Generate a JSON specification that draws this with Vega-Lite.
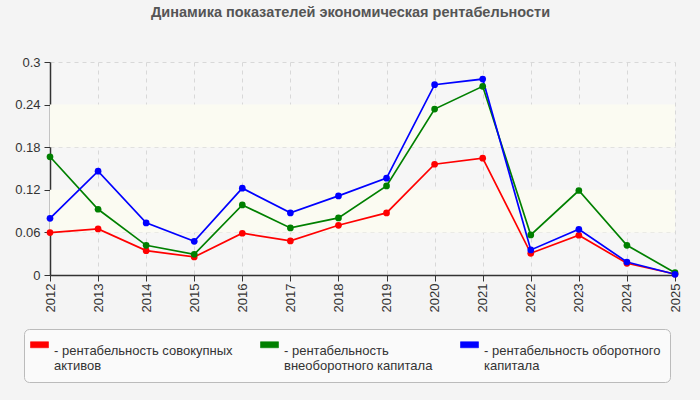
{
  "$schema": "https://vega.github.io/schema/vega-lite/v6.json",
  "autosize": "none",
  "width": 625,
  "height": 213,
  "padding": {"left": 50, "top": 62, "right": 25, "bottom": 125},
  "background": "#f4f4f4",
  "title": {
    "text": "Динамика показателей экономическая рентабельности",
    "font": "Liberation Sans",
    "fontSize": 14.5,
    "fontWeight": "bold",
    "color": "#555555",
    "anchor": "middle",
    "dx": -12,
    "offset": 36
  },
  "config": {
    "view": {"fill": "#f6f6f6", "stroke": null},
    "font": "Liberation Sans",
    "axis": {
      "labelFont": "Liberation Sans",
      "labelFontSize": 13,
      "labelColor": "#333333",
      "domainColor": "#333333",
      "domainWidth": 1.5,
      "tickColor": "#333333",
      "tickSize": 6,
      "gridColor": "#d8d8d8",
      "gridDash": [4, 4],
      "title": null
    }
  },
  "datasets": {
    "bands": [
      {"lo": 0.06, "hi": 0.12},
      {"lo": 0.18, "hi": 0.24}
    ],
    "series": [
      {"year": "2012", "metric": "рентабельность совокупных активов", "value": 0.0597},
      {"year": "2013", "metric": "рентабельность совокупных активов", "value": 0.0649},
      {"year": "2014", "metric": "рентабельность совокупных активов", "value": 0.0343},
      {"year": "2015", "metric": "рентабельность совокупных активов", "value": 0.0254},
      {"year": "2016", "metric": "рентабельность совокупных активов", "value": 0.0588},
      {"year": "2017", "metric": "рентабельность совокупных активов", "value": 0.048},
      {"year": "2018", "metric": "рентабельность совокупных активов", "value": 0.070},
      {"year": "2019", "metric": "рентабельность совокупных активов", "value": 0.0875},
      {"year": "2020", "metric": "рентабельность совокупных активов", "value": 0.156},
      {"year": "2021", "metric": "рентабельность совокупных активов", "value": 0.1646},
      {"year": "2022", "metric": "рентабельность совокупных активов", "value": 0.0306},
      {"year": "2023", "metric": "рентабельность совокупных активов", "value": 0.056},
      {"year": "2024", "metric": "рентабельность совокупных активов", "value": 0.0165},
      {"year": "2025", "metric": "рентабельность совокупных активов", "value": 0.0014},
      {"year": "2012", "metric": "рентабельность внеоборотного капитала", "value": 0.1665},
      {"year": "2013", "metric": "рентабельность внеоборотного капитала", "value": 0.0926},
      {"year": "2014", "metric": "рентабельность внеоборотного капитала", "value": 0.0418},
      {"year": "2015", "metric": "рентабельность внеоборотного капитала", "value": 0.0292},
      {"year": "2016", "metric": "рентабельность внеоборотного капитала", "value": 0.0987},
      {"year": "2017", "metric": "рентабельность внеоборотного капитала", "value": 0.0663},
      {"year": "2018", "metric": "рентабельность внеоборотного капитала", "value": 0.0804},
      {"year": "2019", "metric": "рентабельность внеоборотного капитала", "value": 0.1255},
      {"year": "2020", "metric": "рентабельность внеоборотного капитала", "value": 0.2337},
      {"year": "2021", "metric": "рентабельность внеоборотного капитала", "value": 0.2657},
      {"year": "2022", "metric": "рентабельность внеоборотного капитала", "value": 0.0564},
      {"year": "2023", "metric": "рентабельность внеоборотного капитала", "value": 0.119},
      {"year": "2024", "metric": "рентабельность внеоборотного капитала", "value": 0.0418},
      {"year": "2025", "metric": "рентабельность внеоборотного капитала", "value": 0.0033},
      {"year": "2012", "metric": "рентабельность оборотного капитала", "value": 0.0799},
      {"year": "2013", "metric": "рентабельность оборотного капитала", "value": 0.1462},
      {"year": "2014", "metric": "рентабельность оборотного капитала", "value": 0.0734},
      {"year": "2015", "metric": "рентабельность оборотного капитала", "value": 0.0475},
      {"year": "2016", "metric": "рентабельность оборотного капитала", "value": 0.1223},
      {"year": "2017", "metric": "рентабельность оборотного капитала", "value": 0.0875},
      {"year": "2018", "metric": "рентабельность оборотного капитала", "value": 0.1114},
      {"year": "2019", "metric": "рентабельность оборотного капитала", "value": 0.1364},
      {"year": "2020", "metric": "рентабельность оборотного капитала", "value": 0.268},
      {"year": "2021", "metric": "рентабельность оборотного капитала", "value": 0.276},
      {"year": "2022", "metric": "рентабельность оборотного капитала", "value": 0.0353},
      {"year": "2023", "metric": "рентабельность оборотного капитала", "value": 0.0644},
      {"year": "2024", "metric": "рентабельность оборотного капитала", "value": 0.0183},
      {"year": "2025", "metric": "рентабельность оборотного капитала", "value": 0.001}
    ]
  },
  "layer": [
    {
      "data": {"name": "bands"},
      "mark": {"type": "rect", "fill": "#fbfbf2"},
      "encoding": {
        "y": {"field": "lo", "type": "quantitative", "scale": {"domain": [0, 0.3]}},
        "y2": {"field": "hi"}
      }
    },
    {
      "data": {"name": "series"},
      "encoding": {
        "x": {
          "field": "year",
          "type": "ordinal",
          "scale": {"type": "point", "padding": 0},
          "axis": {"labelAngle": -90, "labelAlign": "right", "labelBaseline": "middle", "grid": true, "labelPadding": 2}
        },
        "y": {
          "field": "value",
          "type": "quantitative",
          "scale": {"domain": [0, 0.3], "nice": false, "zero": true},
          "axis": {"values": [0, 0.06, 0.12, 0.18, 0.24, 0.3], "format": "~g", "grid": true, "labelPadding": 4}
        },
        "color": {
          "field": "metric",
          "type": "nominal",
          "sort": null,
          "scale": {
            "domain": ["рентабельность совокупных активов", "рентабельность внеоборотного капитала", "рентабельность оборотного капитала"],
            "range": ["#ff0000", "#008000", "#0000ff"]
          },
          "legend": {
            "title": null,
            "orient": "none",
            "legendX": -26,
            "legendY": 267,
            "direction": "horizontal",
            "columns": 3,
            "columnPadding": 26,
            "symbolType": "M-1.8,-0.6L1.8,-0.6L1.8,0.6L-1.8,0.6Z",
            "symbolSize": 100,
            "symbolStrokeColor": "#888888",
            "symbolStrokeWidth": 0.6,
            "labelFont": "Liberation Sans",
            "labelFontSize": 13,
            "labelColor": "#333333",
            "labelLimit": 240,
            "labelBaseline": "top",
            "labelOffset": 8,
            "labelExpr": "datum.label == 'рентабельность совокупных активов' ? ['- рентабельность совокупных', '  активов'] : datum.label == 'рентабельность внеоборотного капитала' ? ['- рентабельность', '  внеоборотного капитала'] : ['- рентабельность оборотного', '  капитала']",
            "fillColor": "#fafafa",
            "strokeColor": "#bbbbbb",
            "cornerRadius": 5,
            "padding": 9
          }
        }
      },
      "layer": [
        {"mark": {"type": "line", "strokeWidth": 1.7}},
        {"mark": {"type": "circle", "size": 45, "opacity": 1}}
      ]
    }
  ]
}
